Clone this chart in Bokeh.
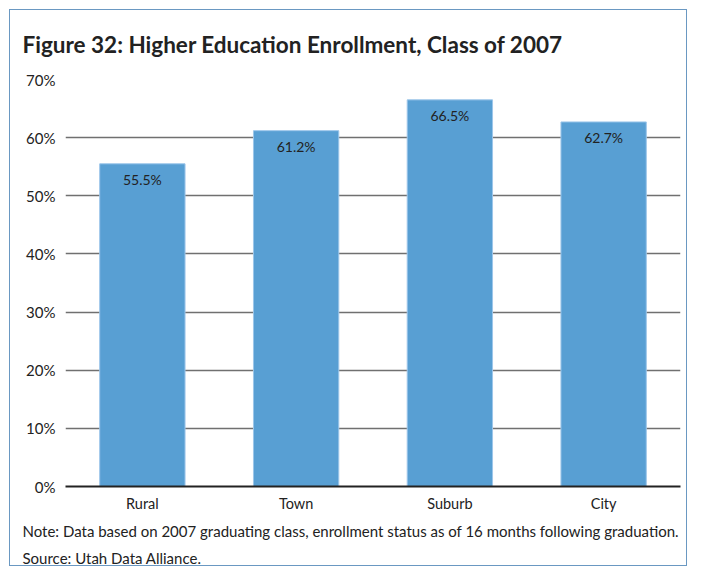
from bokeh.plotting import figure
from bokeh.models import ColumnDataSource, Range1d, FixedTicker, PrintfTickFormatter, Title, LabelSet
from bokeh.core.properties import value
from bokeh.embed import file_html
from bokeh.resources import INLINE

categories = ["Rural", "Town", "Suburb", "City"]
enrollment = [55.5, 61.2, 66.5, 62.7]
labels = ["55.5%", "61.2%", "66.5%", "62.7%"]
y_ticks = [0, 10, 20, 30, 40, 50, 60, 70]
title_text = "Figure 32: Higher Education Enrollment, Class of 2007"
note_text = "Note: Data based on 2007 graduating class, enrollment status as of 16 months following graduation."
source_text = "Source: Utah Data Alliance."

FONT = "Lato"
src = ColumnDataSource(dict(cat=categories, val=enrollment, lab=labels))

p = figure(x_range=categories, y_range=Range1d(0, 70), width=678, height=557,
           output_backend="svg", toolbar_location=None,
           min_border_left=55, min_border_right=8, min_border_top=69, min_border_bottom=40)
p.outline_line_color = None
p.background_fill_color = "white"
p.border_fill_color = "white"
p.styles = {"border": "1px solid #6a98c2", "margin-left": "9px", "margin-top": "9px"}

p.vbar(x="cat", top="val", width=0.555, source=src, fill_color="#589fd3",
       line_color="#9cc6ea", line_width=1)

p.add_layout(LabelSet(x="cat", y="val", text="lab", source=src, text_align="center",
                      text_baseline="top", y_offset=-7, text_font_size="14px",
                      text_color="#222222", text_font=value(FONT)))

p.title.text = title_text
p.title.text_font = FONT
p.title.text_font_size = "22.5px"
p.title.text_font_style = "bold"
p.title.text_color = "#222222"
p.title.align = "left"
p.title.vertical_align = "top"
p.title.offset = -43
p.title.standoff = 40

p.yaxis.ticker = FixedTicker(ticks=y_ticks)
p.yaxis.formatter = PrintfTickFormatter(format="%d%%")
p.yaxis.axis_line_color = None
p.yaxis.major_tick_line_color = None
p.yaxis.minor_tick_line_color = None
p.yaxis.major_label_text_font = FONT
p.yaxis.major_label_text_font_size = "15px"
p.yaxis.major_label_text_color = "#222222"
p.yaxis.major_label_standoff = 4

p.xaxis.axis_line_color = "#222222"
p.xaxis.axis_line_width = 2
p.xaxis.major_tick_line_color = None
p.xaxis.major_label_text_font = FONT
p.xaxis.major_label_text_font_size = "14.5px"
p.xaxis.major_label_text_color = "#222222"
p.xaxis.major_label_standoff = 2

p.xgrid.grid_line_color = None
p.ygrid.grid_line_color = "#707070"
p.ygrid.grid_line_width = 1.3

note = Title(text=note_text, align="left", offset=-43, text_font=FONT, text_font_size="15px",
             text_font_style="normal", text_color="#222222", standoff=11)
source_t = Title(text=source_text, align="left", offset=-43, text_font=FONT,
                 text_font_size="15px", text_font_style="normal", text_color="#222222", standoff=2)
p.add_layout(note, "below")
p.add_layout(source_t, "below")

open("out.html", "w").write(file_html(p, INLINE))
